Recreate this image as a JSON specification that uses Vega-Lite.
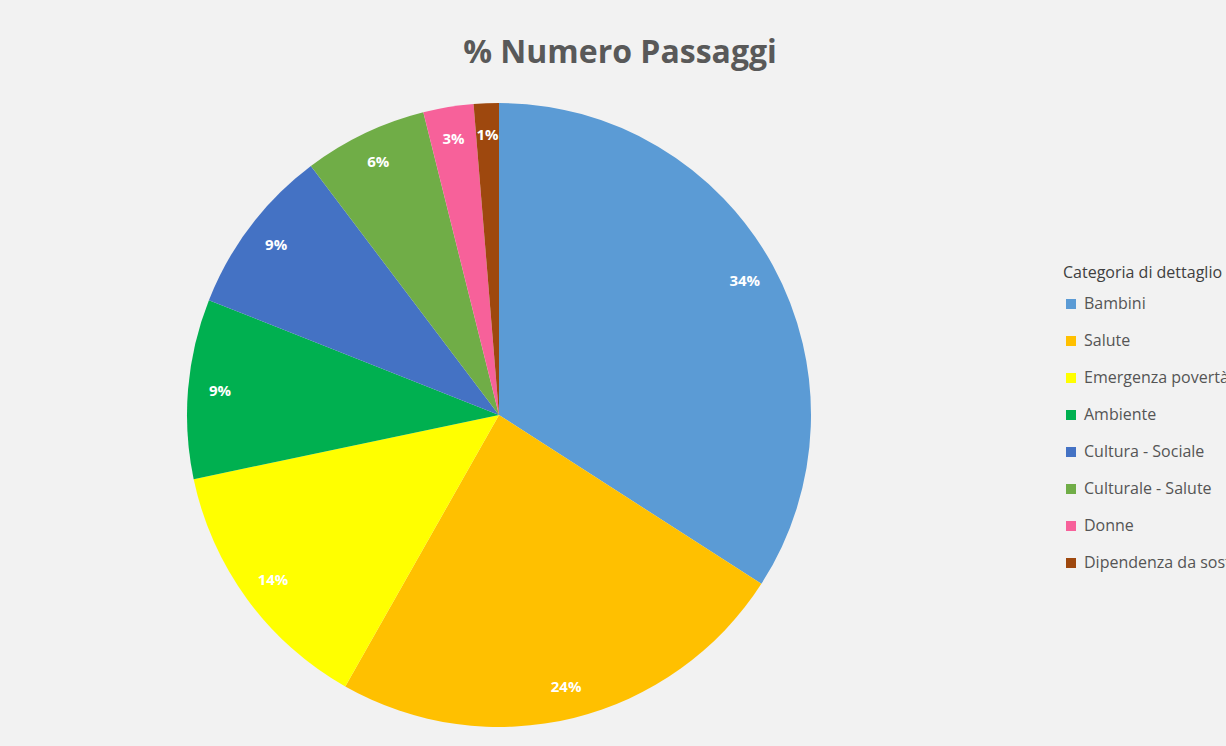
{
  "$schema": "https://vega.github.io/schema/vega-lite/v6.json",
  "autosize": {"type": "none"},
  "width": 982,
  "height": 630,
  "padding": {"left": 8, "top": 100, "right": 236, "bottom": 16},
  "background": "#f2f2f2",
  "title": {
    "text": "% Numero Passaggi",
    "fontSize": 32,
    "fontWeight": "bold",
    "font": "Open Sans",
    "color": "#595959",
    "dx": 121,
    "anchor": "middle",
    "offset": 30
  },
  "data": {
    "values": [
      {"categoria": "Bambini", "pct": 34.1, "label": "34%", "ord": 1},
      {"categoria": "Salute", "pct": 24.1, "label": "24%", "ord": 2},
      {"categoria": "Emergenza povertà", "pct": 13.5, "label": "14%", "ord": 3},
      {"categoria": "Ambiente", "pct": 9.3, "label": "9%", "ord": 4},
      {"categoria": "Cultura - Sociale", "pct": 8.7, "label": "9%", "ord": 5},
      {"categoria": "Culturale - Salute", "pct": 6.4, "label": "6%", "ord": 6},
      {"categoria": "Donne", "pct": 2.6, "label": "3%", "ord": 7},
      {"categoria": "Dipendenza da sostanze", "pct": 1.3, "label": "1%", "ord": 8}
    ]
  },
  "encoding": {
    "theta": {"field": "pct", "type": "quantitative", "stack": true},
    "order": {"field": "ord", "type": "quantitative"}
  },
  "layer": [
    {
      "mark": {"type": "arc", "outerRadius": 312},
      "encoding": {
        "color": {
          "field": "categoria",
          "type": "nominal",
          "sort": ["Bambini", "Salute", "Emergenza povertà", "Ambiente", "Cultura - Sociale", "Culturale - Salute", "Donne", "Dipendenza da sostanze"],
          "scale": {
            "domain": ["Bambini", "Salute", "Emergenza povertà", "Ambiente", "Cultura - Sociale", "Culturale - Salute", "Donne", "Dipendenza da sostanze"],
            "range": ["#5B9BD5", "#FFC000", "#FFFF00", "#00B050", "#4472C4", "#70AD47", "#F7619A", "#9E480E"]
          },
          "legend": {
            "orient": "none",
            "legendX": 1055,
            "legendY": 165,
            "title": "Categoria di dettaglio",
            "titleFont": "Open Sans",
            "titleFontSize": 16,
            "titleFontWeight": "normal",
            "titleColor": "#404040",
            "titlePadding": 15,
            "titleLimit": 400,
            "labelFont": "Open Sans",
            "labelFontSize": 16,
            "labelColor": "#555555",
            "labelLimit": 400,
            "labelOffset": 5,
            "symbolType": "square",
            "symbolSize": 100,
            "symbolStrokeWidth": 0,
            "rowPadding": 21,
            "padding": 0
          }
        }
      }
    },
    {
      "mark": {"type": "text", "radius": 280, "font": "Open Sans", "fontSize": 15, "fontWeight": "bold", "color": "white"},
      "encoding": {
        "text": {"field": "label", "type": "nominal"}
      }
    }
  ]
}
